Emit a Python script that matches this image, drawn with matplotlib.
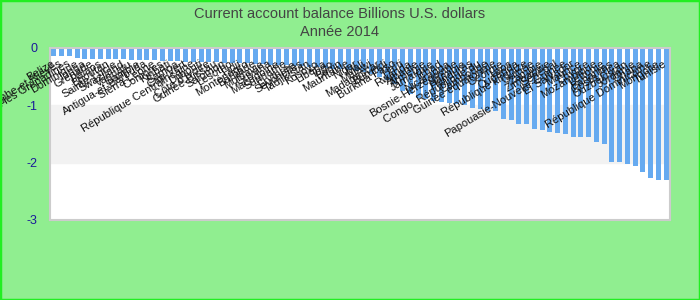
import matplotlib
matplotlib.use("Agg")
import matplotlib.pyplot as plt
from matplotlib.patches import Rectangle

plt.rcParams['font.family'] = ['Liberation Sans', 'DejaVu Sans']

# Current account balance 2014 (billions USD), sorted
countries = [
    "Belize", "Saint-Christophe-et-Niévès", "Saint-Vincent-et-les Grenadines",
    "Dominique", "Tonga", "Grenade", "Palaos", "Bhoutan", "Sainte-Lucie",
    "Swaziland", "Vanuatu", "Gambie", "Antigua-et-Barbuda", "Sierra Leone",
    "Comores", "Kiribati", "Samoa", "Cap-Vert", "République Centrafricaine",
    "Djibouti", "Côte d'Ivoire", "Guinée-Bissau", "Salomon", "Lesotho",
    "Fidji", "Monténégro", "Barbade", "Moldavie", "Guyana", "Macédoine",
    "Suriname", "Érythrée", "Seychelles", "Tadjikistan", "Kosovo", "Libéria",
    "Togo", "Bénin", "Mauritanie", "Niger", "Mali", "Malawi", "Madagascar",
    "Burundi", "Burkina Faso", "Haïti", "Rwanda", "Albanie", "Arménie",
    "Jamaïque", "Tchad", "Nicaragua", "Bosnie-Herzégovine", "Namibie",
    "Honduras", "Congo, République du", "Cambodge", "Guinée équatoriale",
    "Géorgie", "Laos", "Ouganda", "République kirghize", "Guinée", "Zambie",
    "Zimbabwe", "Sénégal", "Papouasie-Nouvelle-Guinée", "El Salvador",
    "Maurice", "Chypre", "Mozambique", "Lettonie", "Bahamas", "Costa Rica",
    "Ouzbékistan", "Jordanie", "Ghana", "République Dominicaine", "Mongolie",
    "Tunisie",
]
balance = [
    -0.14, -0.14, -0.14, -0.17, -0.19, -0.19, -0.19, -0.19, -0.20, -0.20,
    -0.21, -0.21, -0.21, -0.21, -0.22, -0.22, -0.23, -0.24, -0.24, -0.24,
    -0.25, -0.25, -0.26, -0.26, -0.27, -0.27, -0.28, -0.28, -0.29, -0.30,
    -0.30, -0.31, -0.32, -0.33, -0.34, -0.35, -0.36, -0.37, -0.38, -0.40,
    -0.42, -0.45, -0.50, -0.55, -0.62, -0.75, -0.80, -0.87, -0.89, -0.92,
    -0.95, -0.96, -0.97, -1.00, -1.04, -1.07, -1.10, -1.10, -1.23, -1.26,
    -1.32, -1.32, -1.41, -1.43, -1.46, -1.48, -1.50, -1.55, -1.55, -1.55,
    -1.64, -1.68, -1.98, -1.98, -2.02, -2.05, -2.16, -2.26, -2.30, -2.30,
]
yticks = [0, -1, -2, -3]

fig = plt.figure(figsize=(7, 3), dpi=100, facecolor='#90ee90')
fig.patches.append(Rectangle((0, 0), 1, 1, transform=fig.transFigure,
                             fill=False, edgecolor='#22ee22', linewidth=2.5))

ax = fig.add_axes([50 / 700, 80 / 300, 620 / 700, 172 / 300])
ax.set_facecolor('white')

# alternating bands
ax.axhspan(-2, -1, color='#f2f2f2', zorder=0)

x = list(range(len(countries)))
ax.bar(x, balance, width=0.65, color='#66aaf0', zorder=2)

# category labels, rotated and overlapping as in the original
for i, name in enumerate(countries):
    ax.text(i, -0.26, name, rotation=31, rotation_mode='anchor',
            ha='right', va='center', fontsize=8, color='#111111',
            zorder=3, clip_on=False)

ax.set_xlim(-0.5, len(countries) - 0.5)
ax.set_ylim(-3, 0)
ax.set_xticks([])
ax.set_yticks(yticks)
ax.set_yticklabels([str(t) for t in yticks])
ax.tick_params(axis='y', length=0, pad=9, labelsize=9, labelcolor='#1a1a99')
for s in ax.spines.values():
    s.set_color('#cccccc')
    s.set_linewidth(1.5)

fig.text(0.485, 0.955, "Current account balance Billions U.S. dollars",
         ha='center', va='center', fontsize=10.5, color='#444444')
fig.text(0.485, 0.893, "Année 2014", ha='center', va='center',
         fontsize=10.5, color='#444444')

fig.savefig("out.png", dpi=100, facecolor=fig.get_facecolor())
